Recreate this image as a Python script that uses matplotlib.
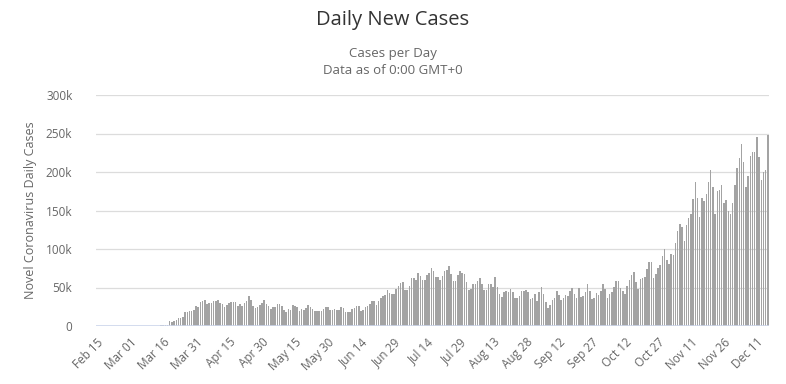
import matplotlib
matplotlib.use("Agg")
import matplotlib.pyplot as plt
import numpy as np
import pandas as pd

start_date = "2020-02-15"
feb = [0,0,0,0,0,0,0,0,0,0,0,0,15,5,8]
mar = [8,23,20,31,68,45,140,116,65,378,322,382,516,548,772,1133,1789,1362,5894,5423,6389,7787,10571,9893,12038,18058,17821,19821,19408,20921,26365]
apr = [25200,30643,31911,33323,28219,29595,29556,32829,32385,33752,29861,28917,25306,26641,30148,31667,31705,30833,26493,28123,25985,29973,31900,38958,33955,26543,23805,24853,27327,29515]
may = [34037,29078,25501,22335,24292,24980,28420,28369,25612,20329,18621,22048,20782,27246,25508,24487,18937,22630,20289,22860,27328,24118,22561,19608,19790,18910,19064,22577,24266,24147,20225]
jun = [21086,21882,20578,21140,25302,22838,18733,18297,18820,21738,23300,25559,25638,19034,20647,25049,26071,28223,32288,31995,27237,31819,35862,38604,40003,46820,43467,41599,41658,47434]
jul = [51826,55250,56617,46560,46326,51319,62918,62751,59886,68241,65339,59267,59736,66632,69300,75821,72000,64000,63000,60000,65000,71000,73000,78000,67000,58000,58000,66000,71000,69000,67000]
aug = [57000,47000,48000,54000,54000,58000,62000,55000,47000,47000,54000,55000,51000,64000,51000,41000,38000,44000,46000,44000,48000,44000,36000,36000,39000,46000,46000,47000,44000,35000,37000]
sep = [42000,32000,44000,51000,41000,31000,24000,27000,34000,36000,46000,40000,34000,36000,40000,39000,45000,50000,42000,37000,50000,38000,39000,44000,55000,46000,35000,36000,43000,40000]
oct_ = [45000,54000,48000,37000,42000,44000,51000,58000,58000,49000,46000,42000,52000,60000,66000,70000,57000,48000,61000,62000,63000,74000,83000,83000,62000,67000,75000,79000,91000,100000,86000]
nov = [81000,93000,92000,108000,123000,132000,128000,110000,131000,140000,146000,165000,187000,166000,142000,166000,162000,171000,187000,203000,180000,146000,175000,177000,183000,160000,164000,150000,145000,160000]
dec = [183000,205000,218000,237000,213000,180000,195000,221000,226000,226000,245000,220000,190000,200000,203000,248000]

values = feb + mar + apr + may + jun + jul + aug + sep + oct_ + nov + dec
dates = pd.date_range(start_date, periods=len(values), freq="D")
labels = [d.strftime("%b %d") for d in dates]

y_ticks = [0, 50000, 100000, 150000, 200000, 250000, 300000]
y_tick_labels = ["0", "50k", "100k", "150k", "200k", "250k", "300k"]

plt.rcParams['font.family'] = ['Open Sans', 'DejaVu Sans']

fig = plt.figure(figsize=(7.86, 3.84), dpi=100)
ax = fig.add_axes([96/786, 1-326/384, (769-96)/786, (326-95)/384])

x = np.arange(len(values))
ax.bar(x, values, width=0.7, color="#a3a3a3", edgecolor="none", zorder=3)

ax.set_xlim(-0.5, len(values) - 0.5)
ax.set_ylim(0, 300000)
ax.set_yticks(y_ticks)
ax.set_yticklabels(y_tick_labels)
for yv in y_ticks[1:]:
    ax.axhline(yv, color="#dcdcdc", lw=0.9, zorder=1)
ax.axhline(0, color="#ccd6eb", lw=1.2, zorder=4)

tick_idx = list(range(0, len(values), 15))
ax.set_xticks(tick_idx)
ax.set_xticklabels([labels[i] for i in tick_idx], rotation=45, ha="right",
                   rotation_mode="anchor", fontsize=8.5, color="#666666")
ax.tick_params(axis="x", length=0, pad=7)
ax.tick_params(axis="y", length=0, labelsize=8.5, labelcolor="#666666", pad=17)
for s in ax.spines.values():
    s.set_visible(False)

ax.set_ylabel("Novel Coronavirus Daily Cases", fontsize=9, color="#666666", labelpad=6)

fig.text(0.5, 1-20/384, "Daily New Cases", ha="center", va="center", fontsize=14.5, color="#333333")
fig.text(0.5, 1-53/384, "Cases per Day", ha="center", va="center", fontsize=9.5, color="#666666")
fig.text(0.5, 1-70/384, "Data as of 0:00 GMT+0", ha="center", va="center", fontsize=9.5, color="#666666")

fig.savefig("out.png", dpi=100, facecolor="white")
